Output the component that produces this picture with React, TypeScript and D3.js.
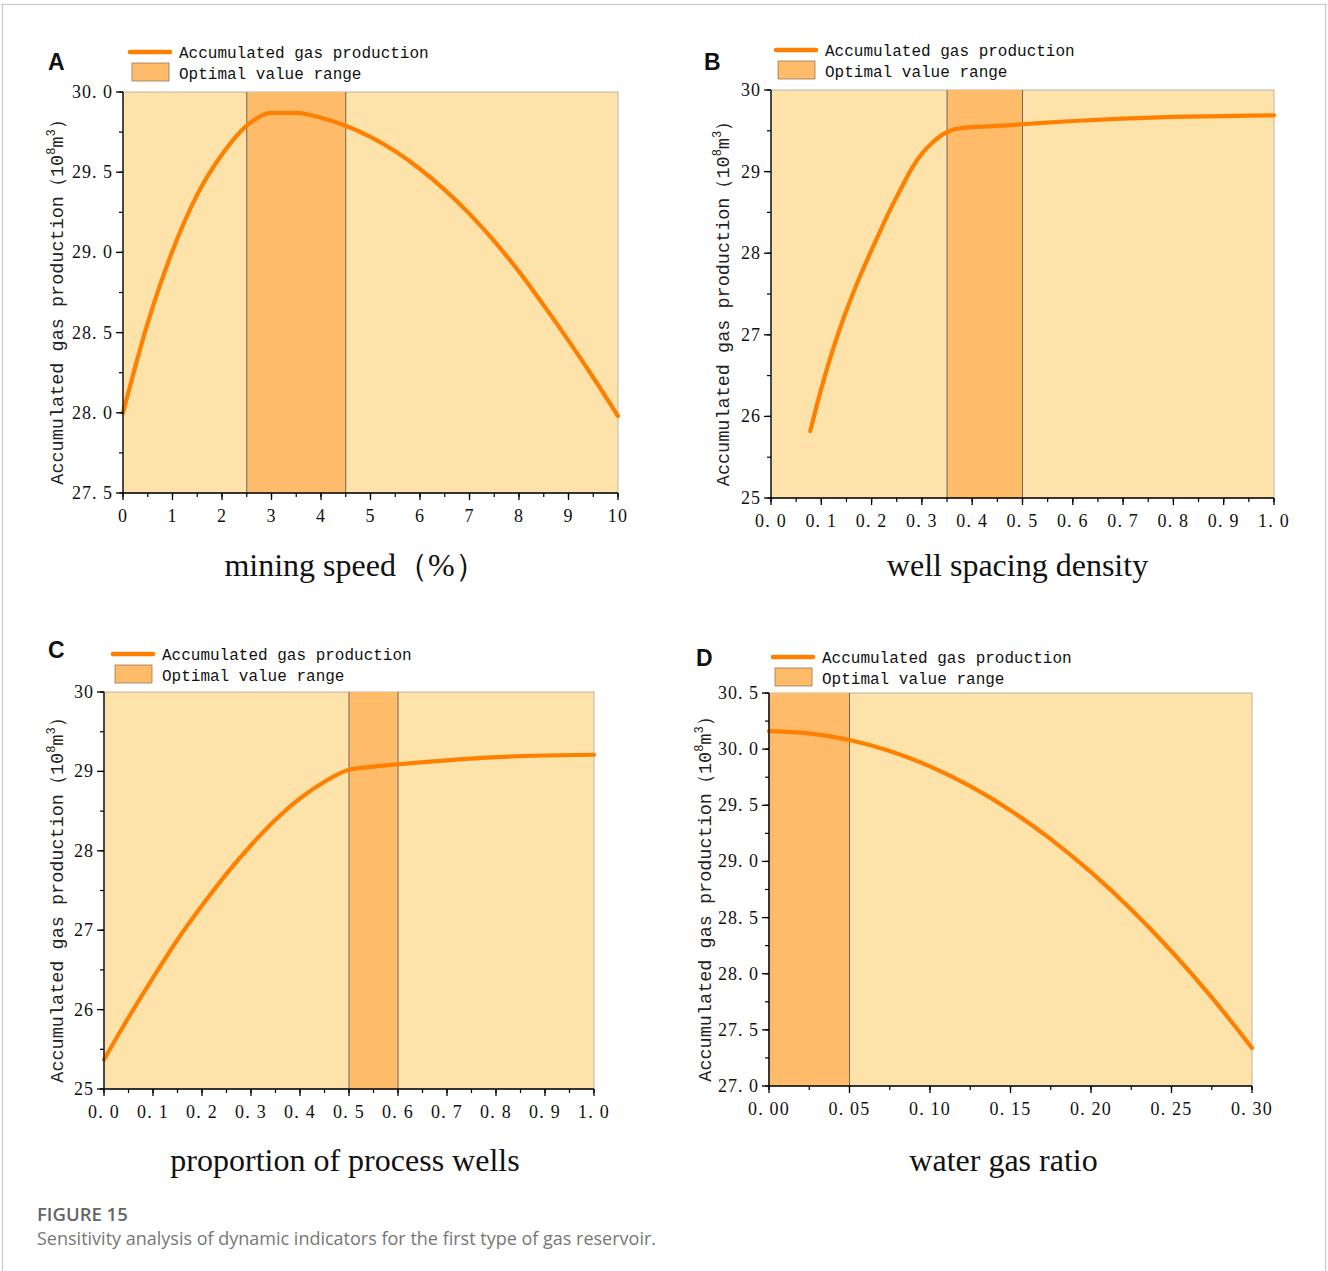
import React from "react";
import * as d3 from "d3";

// ---------- DATA ----------
const miningSpeed = [0, 0.5, 1, 1.5, 2, 2.5, 3, 3.5, 4, 4.5, 5, 5.5, 6, 6.5, 7, 7.5, 8, 8.5, 9, 9.5, 10];
const gasA = [28.0, 28.56, 29.01, 29.36, 29.61, 29.79, 29.87, 29.87, 29.84, 29.79, 29.72, 29.63, 29.52, 29.39, 29.24, 29.07, 28.88, 28.67, 28.45, 28.22, 27.98];

const wellSpacing = [0.078, 0.1, 0.12, 0.14, 0.16, 0.18, 0.2, 0.22, 0.24, 0.26, 0.28, 0.3, 0.32, 0.34, 0.36, 0.4, 0.45, 0.5, 0.6, 0.7, 0.8, 0.9, 1.0];
const gasB = [25.82, 26.34, 26.76, 27.13, 27.46, 27.76, 28.04, 28.31, 28.57, 28.81, 29.04, 29.22, 29.35, 29.45, 29.51, 29.545, 29.56, 29.58, 29.62, 29.65, 29.67, 29.68, 29.69];

const processWells = [0, 0.05, 0.1, 0.15, 0.2, 0.25, 0.3, 0.35, 0.4, 0.45, 0.5, 0.55, 0.6, 0.7, 0.8, 0.9, 1.0];
const gasC = [25.37, 25.9, 26.4, 26.88, 27.31, 27.71, 28.07, 28.39, 28.66, 28.87, 29.02, 29.06, 29.09, 29.14, 29.18, 29.2, 29.21];

const waterGas = [0, 0.025, 0.05, 0.075, 0.1, 0.125, 0.15, 0.175, 0.2, 0.225, 0.25, 0.275, 0.3];
const gasD = [30.16, 30.14, 30.081, 29.983, 29.846, 29.67, 29.454, 29.199, 28.905, 28.572, 28.2, 27.789, 27.339];

const optimalA = [2.5, 4.5];
const optimalB = [0.35, 0.5];
const optimalC = [0.5, 0.6];
const optimalD = [0, 0.05];

const xTitles = ["mining speed\uFF08%\uFF09", "well spacing density", "proportion of process wells", "water gas ratio"];
const panelLetters = ["A", "B", "C", "D"];
const legendLabels = ["Accumulated gas production", "Optimal value range"];

// ---------- LAYOUT ----------
const W = 1328;
const H = 1271;

const panels = [
  {
    letter: panelLetters[0], xs: miningSpeed, ys: gasA, band: optimalA,
    xDomain: [0, 10], yDomain: [27.5, 30], xMajor: 1, xMinor: 0.5, yMajor: 0.5, yMinor: 0.25,
    xFmt: (v: number) => d3.format("d")(v), yFmt: (v: number) => d3.format(".1f")(v).replace(".", ". "),
    rect: { l: 123, r: 618, t: 92, b: 493 }, letterPos: [48, 70], legend: [130, 52], ylabX: 63, title: xTitles[0], titleY: 576, titleDx: -15,
  },
  {
    letter: panelLetters[1], xs: wellSpacing, ys: gasB, band: optimalB,
    xDomain: [0, 1], yDomain: [25, 30], xMajor: 0.1, xMinor: 0.05, yMajor: 1, yMinor: 0.5,
    xFmt: (v: number) => d3.format(".1f")(v).replace(".", ". "), yFmt: (v: number) => d3.format("d")(v),
    rect: { l: 771, r: 1274, t: 90, b: 498 }, letterPos: [704, 70], legend: [776, 50], ylabX: 729, title: xTitles[1], titleY: 576, titleDx: -5,
  },
  {
    letter: panelLetters[2], xs: processWells, ys: gasC, band: optimalC,
    xDomain: [0, 1], yDomain: [25, 30], xMajor: 0.1, xMinor: 0.05, yMajor: 1, yMinor: 0.5,
    xFmt: (v: number) => d3.format(".1f")(v).replace(".", ". "), yFmt: (v: number) => d3.format("d")(v),
    rect: { l: 104, r: 594, t: 692, b: 1089 }, letterPos: [48, 658], legend: [113, 654], ylabX: 63, title: xTitles[2], titleY: 1171, titleDx: -4,
  },
  {
    letter: panelLetters[3], xs: waterGas, ys: gasD, band: optimalD,
    xDomain: [0, 0.3], yDomain: [27, 30.5], xMajor: 0.05, xMinor: 0.025, yMajor: 0.5, yMinor: 0.25,
    xFmt: (v: number) => d3.format(".2f")(v).replace(".", ". "), yFmt: (v: number) => d3.format(".1f")(v).replace(".", ". "),
    rect: { l: 769, r: 1252, t: 693, b: 1086 }, letterPos: [696, 666], legend: [773, 657], ylabX: 711, title: xTitles[3], titleY: 1171, titleDx: -7,
  },
];

const MONO = "'Liberation Mono', 'DejaVu Sans Mono', monospace";
const SERIF = "'Liberation Serif', 'Times New Roman', 'DejaVu Serif', serif";
const BG = "#FDE3A9";
const BAND = "#FEBB69";
const LINE = "#FF8000";

function steps(a: number, b: number, s: number) {
  const out: number[] = [];
  const n = Math.round((b - a) / s);
  for (let i = 0; i <= n; i++) out.push(+(a + i * s).toFixed(6));
  return out;
}

function Panel({ p }: { p: (typeof panels)[number] }) {
  const { l, r, t, b } = p.rect;
  const x = d3.scaleLinear().domain(p.xDomain).range([l, r]);
  const y = d3.scaleLinear().domain(p.yDomain).range([b, t]);
  const line = d3
    .line<number>()
    .x((_, i) => x(p.xs[i]))
    .y((d) => y(d))
    .curve(d3.curveMonotoneX);
  const xMaj = steps(p.xDomain[0], p.xDomain[1], p.xMajor);
  const xMin = steps(p.xDomain[0], p.xDomain[1], p.xMinor);
  const yMaj = steps(p.yDomain[0], p.yDomain[1], p.yMajor);
  const yMin = steps(p.yDomain[0], p.yDomain[1], p.yMinor);
  const [lx, ly] = p.legend;
  const cy = (t + b) / 2 + 5;
  return (
    <g>
      <text x={p.letterPos[0]} y={p.letterPos[1]} fontFamily="'Liberation Sans', Arial, sans-serif" fontWeight="bold" fontSize={23} fill="#111">
        {p.letter}
      </text>
      {/* legend */}
      <line x1={lx} x2={lx + 40} y1={ly} y2={ly} stroke={LINE} strokeWidth={4.5} strokeLinecap="round" />
      <text x={lx + 49} y={ly + 6} fontFamily={MONO} fontSize={16} fill="#111">{legendLabels[0]}</text>
      <rect x={lx + 2} y={ly + 11} width={37} height={18} fill={BAND} stroke="#9a7a5a" strokeWidth={0.8} />
      <text x={lx + 49} y={ly + 27} fontFamily={MONO} fontSize={16} fill="#111">{legendLabels[1]}</text>

      {/* plot */}
      <rect x={l} y={t} width={r - l} height={b - t} fill={BG} stroke="#b9b2a8" strokeWidth={1} />
      <rect x={x(p.band[0])} y={t} width={x(p.band[1]) - x(p.band[0])} height={b - t} fill={BAND} />
      {p.band.map((v, i) => (
        <line key={i} x1={x(v)} x2={x(v)} y1={t} y2={b} stroke="#6e665e" strokeWidth={1} />
      ))}
      <path d={line(p.ys) || ""} fill="none" stroke={LINE} strokeWidth={4.2} strokeLinecap="round" strokeLinejoin="round" />

      {/* axes */}
      <line x1={l} x2={l} y1={t} y2={b + 0.5} stroke="#000" strokeWidth={1.3} />
      <line x1={l} x2={r} y1={b} y2={b} stroke="#000" strokeWidth={1.3} />
      {yMin.map((v, i) => (
        <line key={"ym" + i} x1={l - 4} x2={l} y1={y(v)} y2={y(v)} stroke="#000" strokeWidth={1.2} />
      ))}
      {yMaj.map((v, i) => (
        <g key={"yM" + i}>
          <line x1={l - 7} x2={l} y1={y(v)} y2={y(v)} stroke="#000" strokeWidth={1.3} />
          <text x={l - 10} y={y(v) + 6} textAnchor="end" fontFamily={SERIF} fontSize={18} letterSpacing={1} fill="#111">
            {p.yFmt(v)}
          </text>
        </g>
      ))}
      {xMin.map((v, i) => (
        <line key={"xm" + i} x1={x(v)} x2={x(v)} y1={b} y2={b + 4} stroke="#000" strokeWidth={1.2} />
      ))}
      {xMaj.map((v, i) => (
        <g key={"xM" + i}>
          <line x1={x(v)} x2={x(v)} y1={b} y2={b + 7} stroke="#000" strokeWidth={1.3} />
          <text x={x(v)} y={b + 29} textAnchor="middle" fontFamily={SERIF} fontSize={18} letterSpacing={1.2} fill="#111">
            {p.xFmt(v)}
          </text>
        </g>
      ))}
      {/* y label */}
      <text transform={`translate(${p.ylabX},${cy}) rotate(-90)`} textAnchor="middle" fontFamily={MONO} fontSize={18.5} fill="#222">
        Accumulated gas production{"\uFF08"}10<tspan fontSize={12} dy={-8}>8</tspan><tspan dy={8}>m</tspan><tspan fontSize={12} dy={-8}>3</tspan><tspan dy={8}>{"\uFF09"}</tspan>
      </text>
      {/* x title */}
      <text x={(l + r) / 2 + p.titleDx} y={p.titleY} textAnchor="middle" fontFamily={SERIF} fontSize={32} fill="#111">
        {p.title}
      </text>
    </g>
  );
}

export default function App() {
  return (
    <svg width={W} height={H} viewBox={`0 0 ${W} ${H}`} style={{ position: "absolute", left: 0, top: 0, background: "#fff" }}>
      <rect x={2.5} y={4.5} width={1323} height={1300} fill="#fff" stroke="#c8c8c8" strokeWidth={1.2} />
      {panels.map((p) => (
        <Panel key={p.letter} p={p} />
      ))}
      <text x={37} y={1221} fontFamily="'Open Sans', 'Noto Sans', sans-serif" fontWeight={600} fontSize={18.5} fill="#666">
        FIGURE 15
      </text>
      <text x={37} y={1245} fontFamily="'Open Sans', 'Noto Sans', sans-serif" fontSize={18} fill="#777">
        Sensitivity analysis of dynamic indicators for the first type of gas reservoir.
      </text>
    </svg>
  );
}
